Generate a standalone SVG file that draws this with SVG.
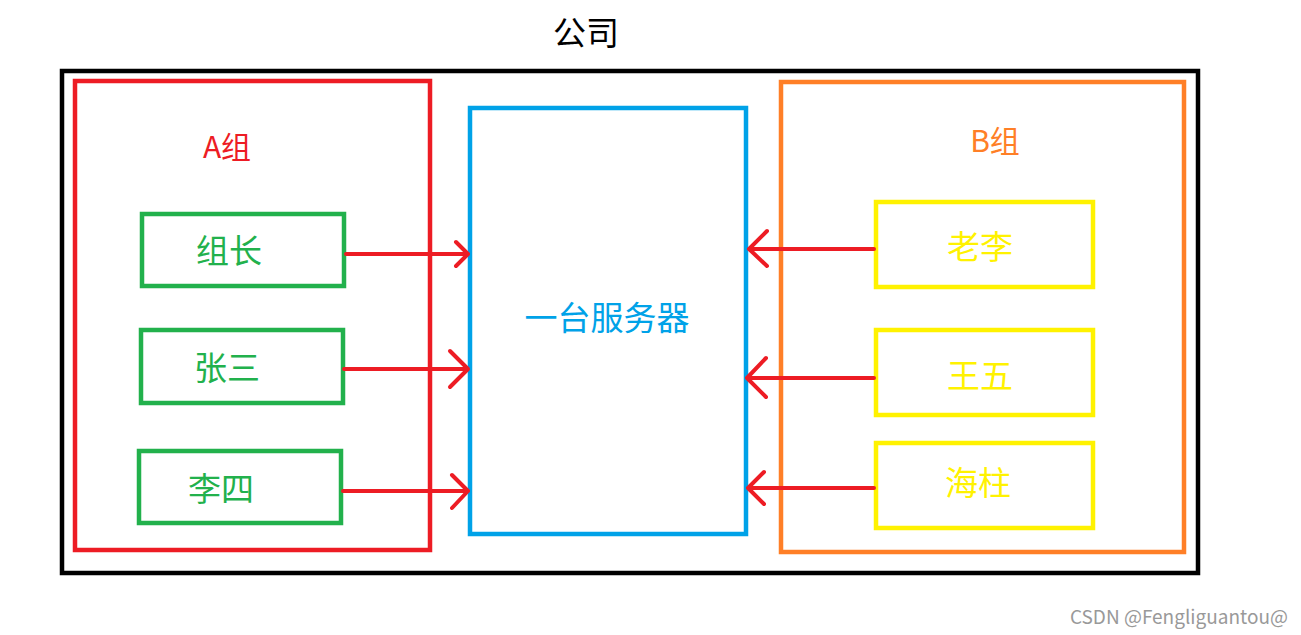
<svg xmlns="http://www.w3.org/2000/svg" width="1301" height="635" viewBox="0 0 1301 635">
<style>
text{font-family:"Microsoft YaHei","Noto Sans CJK SC","Noto Sans",sans-serif;text-anchor:middle;dominant-baseline:central}
.box{fill:none}
.conn{stroke:#ED1C24;stroke-width:4;fill:none;stroke-linecap:round;stroke-linejoin:round}
</style>
<rect width="1301" height="635" fill="#fff"/>
<g id="company">
<text x="586" y="31" font-size="33" fill="#000">公司</text>
<rect class="box" x="62" y="71" width="1136" height="502" stroke="#000" stroke-width="4.5"/>
</g>
<g id="groupA">
<rect class="box" x="75" y="81" width="355" height="469" stroke="#ED1C24" stroke-width="4.5"/>
<text x="227" y="145" font-size="30" fill="#ED1C24">A组</text>
</g>
<g id="server">
<rect class="box" x="470" y="108" width="276" height="426" stroke="#00A2E8" stroke-width="4.5"/>
<text x="607" y="316" font-size="33" fill="#00A2E8">一台服务器</text>
</g>
<g id="groupB">
<rect class="box" x="781" y="82" width="403" height="470" stroke="#FF7F27" stroke-width="4.5"/>
<text x="995" y="139" font-size="30" fill="#FF7F27">B组</text>
</g>
<g id="zuzhang">
<rect class="box" x="142" y="214" width="202" height="72" stroke="#22B14C" stroke-width="4.5"/>
<text x="229" y="249" font-size="33" fill="#22B14C">组长</text>
</g>
<g id="zhangsan">
<rect class="box" x="141" y="330" width="202" height="73" stroke="#22B14C" stroke-width="4.5"/>
<text x="227" y="366" font-size="33" fill="#22B14C">张三</text>
</g>
<g id="lisi">
<rect class="box" x="139" y="451" width="202" height="72" stroke="#22B14C" stroke-width="4.5"/>
<text x="221" y="487" font-size="33" fill="#22B14C">李四</text>
</g>
<g id="laoli">
<rect class="box" x="876" y="202" width="217" height="85" stroke="#FFF200" stroke-width="4.5"/>
<text x="980" y="245" font-size="33" fill="#FFF200">老李</text>
</g>
<g id="wangwu">
<rect class="box" x="876" y="330" width="217" height="85" stroke="#FFF200" stroke-width="4.5"/>
<text x="980" y="374" font-size="33" fill="#FFF200">王五</text>
</g>
<g id="haizhu">
<rect class="box" x="876" y="443" width="217" height="85" stroke="#FFF200" stroke-width="4.5"/>
<text x="978" y="481" font-size="33" fill="#FFF200">海柱</text>
</g>
<g id="connectors">
<path class="conn" d="M346,254 H468 M456,242 L468,254 L456,266"/>
<path class="conn" d="M344,369 H468 M450,351 L468,369 L450,387"/>
<path class="conn" d="M343,491 H468 M452,475 L468,491 L452,508"/>
<path class="conn" d="M874,249 H749 M767,231 L749,249 L767,266"/>
<path class="conn" d="M874,378 H747 M766,358 L747,378 L766,397"/>
<path class="conn" d="M874,488 H748 M764,472 L748,488 L764,504"/>
</g>
<text x="1288" y="615" font-size="19" fill="#999" style="text-anchor:end" font-family="'Liberation Sans Narrow','Liberation Sans',sans-serif">CSDN @Fengliguantou@</text>
</svg>
